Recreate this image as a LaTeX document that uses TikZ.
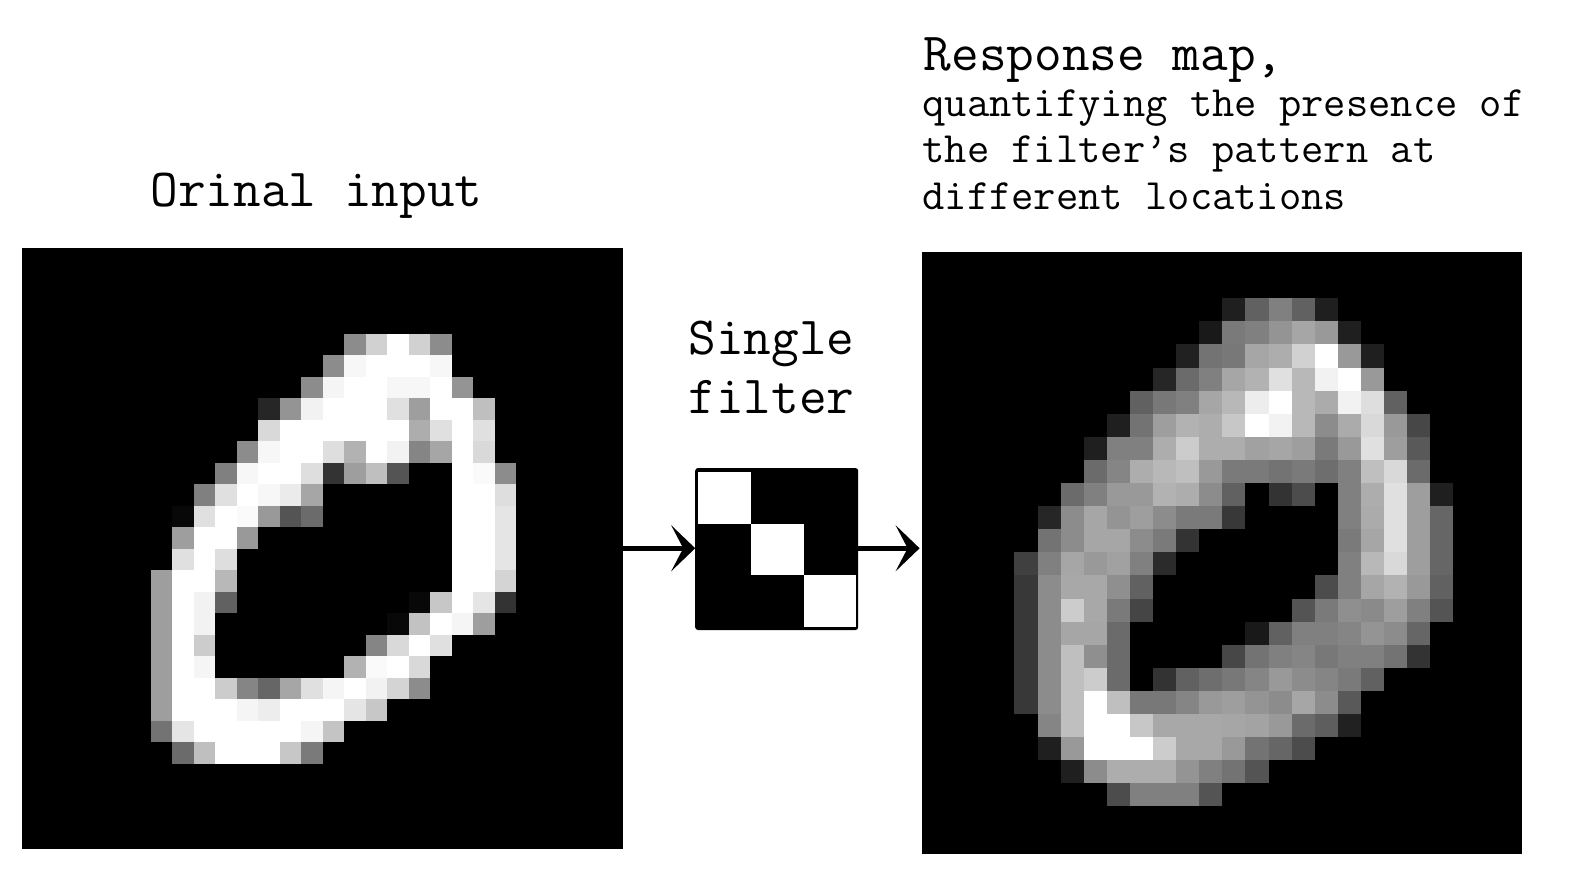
\documentclass[tikz,border=0pt]{standalone}
\usepackage{tikz}
\usetikzlibrary{arrows.meta}
\tikzset{imgbox/.style={rectangle, fill=black, inner sep=0pt, minimum width=#1, minimum height=300.75pt}}
\tikzset{filterbox/.style={rectangle, draw=black, fill=black, line width=1pt, rounded corners=1pt, inner sep=0pt, minimum width=80.5pt, minimum height=80pt}}
\tikzset{flow/.style={line width=2.6pt, -{Stealth[length=12pt, width=23pt, inset=6pt]}}}
\tikzset{bigtext/.style={inner sep=0pt, font=\ttfamily\fontsize{26.85}{26.85}\selectfont}}
\tikzset{smalltext/.style={inner sep=0pt, align=left, font=\ttfamily\fontsize{21.65}{23}\selectfont}}
\newcommand{\drawpixels}[4]{%
  \foreach \r/\c/\vals in #4 {
    \foreach \v [count=\i from \c] in \vals {
      \fill[white!\v!black] ({#1+#3*\i},{#2+#3*\r}) rectangle ++(#3,#3);
    }
  }
}
\begin{document}
\begin{tikzpicture}[x=0.5pt,y=-0.5pt]
    \useasboundingbox (0,0) rectangle (1572,868);

    \node[imgbox=300.75pt] (input) at (322.25,548.25) {};
    \node[imgbox=300pt] (response) at (1222,552.75) {};
    \node[filterbox] (filter) at (776.7,549) {};

    % original digit, 28 x 28
    \def \inrows {4/15/{55,82,100,82,55}, 5/14/{55,97,100,100,100,97},
    6/13/{55,96,100,100,97,97,100,58}, 7/11/{15,58,95,100,100,100,88,62,100,100,75},
    8/11/{85,100,100,100,100,100,100,68,88,100,88}, 9/10/{55,97,100,100,87,70,100,95,52,65,100,85},
    10/9/{50,97,100,100,87,20,62,75,33}, 10/20/{100,98,55}, 11/8/{50,88,100,97,92,65}, 11/20/{100,100,87},
    12/7/{3,88,100,98,60,33,42}, 12/20/{100,100,90}, 13/7/{62,100,100,60}, 13/20/{100,100,90},
    14/7/{88,100,87}, 14/20/{100,100,90}, 15/6/{62,100,100,72}, 15/20/{100,100,83},
    16/6/{62,100,95,38}, 16/18/{3,78,100,90,20}, 17/6/{62,100,95}, 17/17/{3,76,100,96,62},
    18/6/{62,100,80}, 18/16/{52,85,100,88}, 19/6/{62,100,96}, 19/15/{70,98,100,85},
    20/6/{62,100,100,80,52,40,65,88,96,100,95,83,55}, 21/6/{62,100,100,100,96,93,100,100,100,90,78},
    22/6/{45,90,100,100,100,100,100,96,77}, 23/7/{42,75,100,100,100,78,48}}
    \drawpixels{21.5}{247.5}{21.5}{\inrows}

    % response map, 26 x 26
    \def \outrows {2/13/{12,38,50,38,12}, 3/12/{10,48,50,58,65,60,12}, 4/11/{13,45,47,65,68,82,100,60,12},
    5/10/{15,42,50,65,70,88,72,95,100,60}, 6/9/{38,47,50,65,72,93,100,72,67,95,87,38},
    7/8/{12,45,62,70,68,78,100,95,72,55,67,85,60,28}, 8/7/{12,50,50,68,80,68,68,63,65,62,48,60,88,62,35},
    9/7/{42,52,68,72,75,60,48,48,45,48,43,50,75,85,42}, 10/6/{42,50,60,60,70,68,55,38,0,20,30,0,50,68,88,62,12},
    11/5/{15,55,65,58,62,55,48,48,22}, 11/18/{50,67,88,62,40}, 12/5/{45,55,65,65,55,48,20}, 12/18/{48,65,88,62,40},
    13/4/{25,50,65,60,63,50,17}, 13/18/{50,72,85,62,40}, 14/4/{22,55,66,66,56,38}, 14/17/{30,50,65,70,60,38},
    15/4/{22,55,80,66,48,27}, 15/16/{33,48,56,54,62,50,33}, 16/4/{22,55,65,65,42}, 16/14/{10,38,50,50,52,58,55,40},
    17/4/{22,55,75,56,42}, 17/13/{28,45,50,52,47,50,50,45,20}, 18/4/{22,55,75,80,42}, 18/10/{20,38,43,47,52,60,55,52,48,38},
    19/4/{22,55,75,100,75,47,47,52,60,62,58,55,65,55,35}, 20/5/{52,75,100,100,78,66,66,66,65,64,60,42,37,13},
    21/5/{12,60,100,100,100,80,66,66,60,45,40,30}, 22/6/{12,55,68,68,68,58,50,45,33}, 23/8/{30,50,50,50,33}}
    \drawpixels{922}{252}{23.1}{\outrows}

    % filter cells
    \foreach \s in {0,1,2} {
    \fill[white] ({698.3+52.6*\s},{471.7+51.8*\s}) rectangle ++(52.6,51.8);
    }

    \draw[flow] (input) -- (input -| filter.west);
    \draw[flow, shorten >=1pt] (input -| filter.east) -- (input -| response.west);

    \node[bigtext, anchor=base] (inlabel) at (316.5,206) {Orinal input};
    \node[bigtext, anchor=base] (filterlabela) at (771.5,354.5) {Single};
    \node[bigtext, anchor=base] (filterlabelb) at (771.5,413.5) {filter};
    \node[bigtext, anchor=base west] (outlabel) at (923.5,70) {Response map,};
    \node[smalltext, anchor=base west] (outlinea) at (922,116.5) {quantifying the presence of};
    \node[smalltext, anchor=base west] (outlineb) at (922,162.5) {the filter\textquoteright s pattern at};
    \node[smalltext, anchor=base west] (outlinec) at (922,209) {different locations};
\end{tikzpicture}
\end{document}
